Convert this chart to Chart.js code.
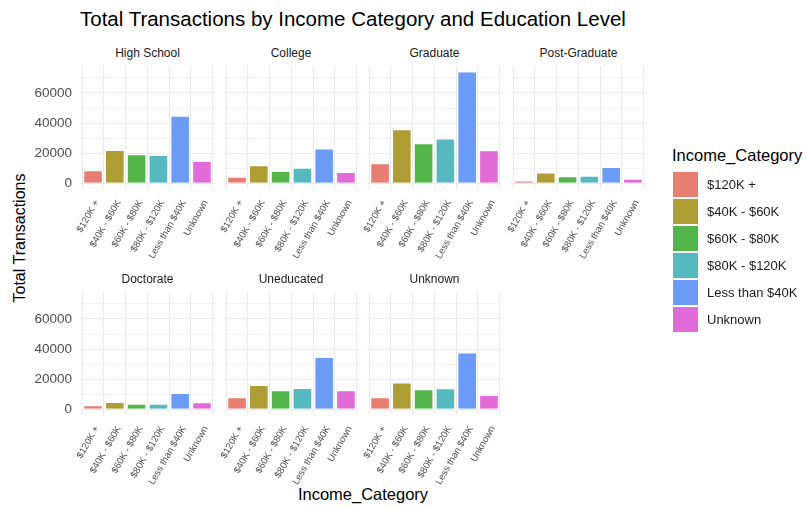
<!DOCTYPE html>
<html>
<head>
<meta charset="utf-8">
<script src="https://cdn.jsdelivr.net/npm/chart.js@4.4.1/dist/chart.umd.min.js"></script>
<style>
body { margin: 0; background: #fff; font-family: 'Liberation Sans', Arial, sans-serif; }
#wrap { position: relative; width: 806px; height: 508px; overflow: hidden; }
.txt { position: absolute; white-space: nowrap; }
canvas { position: absolute; }
.strip { position: absolute; width: 135px; text-align: center; font-size: 12px; color: #1a1a1a; }
.key { position: absolute; left: 673px; width: 25px; height: 25px; }
.keyLabel { position: absolute; left: 707px; font-size: 13px; color: #1a1a1a; }
</style>
</head>
<body>
<div id="wrap">
  <div class="txt" style="left:80px;top:7px;font-size:20.5px;color:#000;">Total Transactions by Income Category and Education Level</div>
  <div class="txt" style="left:20px;top:238px;font-size:16px;color:#000;transform:translate(-50%,-50%) rotate(-90deg);">Total Transactions</div>
  <div class="txt" style="left:363px;top:494px;font-size:16.5px;color:#000;transform:translate(-50%,-50%);">Income_Category</div>
  <div class="txt" style="left:672px;top:146px;font-size:16.5px;color:#000;">Income_Category</div>
</div>
<script>
// categories (x axis) and facets
const incomeCategories = ['$120K +', '$40K - $60K', '$60K - $80K', '$80K - $120K', 'Less than $40K', 'Unknown'];
const educationLevels = ['High School', 'College', 'Graduate', 'Post-Graduate', 'Doctorate', 'Uneducated', 'Unknown'];

// total transactions per income category, one array per education level
const highSchool   = [8700, 22200, 19300, 18900, 44900, 14900];
const college      = [4400, 12000, 8200, 10400, 23100, 7600];
const graduate     = [13300, 36000, 26700, 29800, 74200, 22000];
const postGraduate = [2000, 7300, 4700, 5100, 10900, 3100];
const doctorate    = [2700, 4900, 3800, 3800, 10900, 4700];
const uneducated   = [8000, 16200, 12700, 14200, 34700, 12700];
const unknownEdu   = [8000, 17800, 13300, 14000, 37800, 9600];

const yTickLabels = [0, 20000, 40000, 60000];
const yGridValues = [0, 10000, 20000, 30000, 40000, 50000, 60000, 70000];
const barColors = ['#E87D72', '#AD9D32', '#53B44A', '#55B9BF', '#6B9BF7', '#E26AD9'];

const series = [highSchool, college, graduate, postGraduate, doctorate, uneducated, unknownEdu];

// layout of the facet grid
const colLeft = [80, 223.5, 367, 511];
const rowTop = [65.5, 291.5];
const panelW = 135;
const panelH = 123;
const padL = 65, padR = 8, padT = 20, xAxisH = 85;

const wrap = document.getElementById('wrap');

// fixed y scale shared by all facets, 5% expansion like ggplot
const allMax = Math.max(...series.flat());
const yMin = -0.05 * allMax;
const yMax = 1.05 * allMax;

const gridColor = '#EBEBEB';
const fontFamily = "'Liberation Sans', Arial, sans-serif";

educationLevels.forEach((level, i) => {
    const col = i % 4;
    const row = Math.floor(i / 4);
    const left = colLeft[col];
    const top = rowTop[row];
    const firstCol = col === 0;

    // strip label
    const strip = document.createElement('div');
    strip.className = 'strip';
    strip.style.left = left + 'px';
    strip.style.top = (top - 20) + 'px';
    strip.textContent = level;
    wrap.appendChild(strip);

    // canvas is a bit taller on top so the y labels' padding does not move the plot area
    const canvas = document.createElement('canvas');
    canvas.width = panelW + padL + padR;
    canvas.height = padT + panelH + xAxisH;
    canvas.style.left = (left - padL) + 'px';
    canvas.style.top = (top - padT) + 'px';
    wrap.appendChild(canvas);

    new Chart(canvas.getContext('2d'), {
        type: 'bar',
        data: {
            datasets: [{
                data: series[i].map((v, k) => ({ x: k + 1, y: v })),
                backgroundColor: barColors,
                borderColor: 'rgba(255,255,255,0.7)',
                borderWidth: 1,
                barPercentage: 0.9,
                categoryPercentage: 1.0
            }]
        },
        options: {
            responsive: false,
            animation: false,
            layout: { autoPadding: false, padding: { left: firstCol ? 0 : padL, right: padR, top: padT, bottom: 0 } },
            plugins: { legend: { display: false }, tooltip: { enabled: false } },
            scales: {
                x: {
                    type: 'linear',
                    min: 0.4,
                    max: 6.6,
                    offset: false,
                    afterBuildTicks: (axis) => { axis.ticks = incomeCategories.map((c, k) => ({ value: k + 1 })); },
                    afterFit: (scale) => { scale.height = xAxisH; },
                    grid: { color: gridColor, lineWidth: 1.1, drawTicks: false },
                    border: { display: false },
                    ticks: {
                        autoSkip: false,
                        minRotation: 60,
                        maxRotation: 60,
                        padding: 9,
                        labelOffset: 4,
                        color: '#4D4D4D',
                        font: { size: 9.5, family: fontFamily },
                        callback: (v) => incomeCategories[Math.round(v) - 1]
                    }
                },
                y: {
                    type: 'linear',
                    min: yMin,
                    max: yMax,
                    afterBuildTicks: (axis) => { axis.ticks = yGridValues.map((v) => ({ value: v })); },
                    afterFit: (scale) => { scale.width = firstCol ? padL : 0; },
                    grid: {
                        color: gridColor,
                        drawTicks: false,
                        lineWidth: (ctx) => (ctx.tick && yTickLabels.includes(ctx.tick.value) ? 1.1 : 0.55)
                    },
                    border: { display: false },
                    ticks: {
                        display: firstCol,
                        autoSkip: false,
                        padding: 8,
                        color: '#4D4D4D',
                        font: { size: 13.5, family: fontFamily },
                        callback: (v) => (yTickLabels.includes(v) ? String(v) : '')
                    }
                }
            }
        }
    });
});

// legend
incomeCategories.forEach((c, k) => {
    const y = 172 + k * 27;
    const key = document.createElement('div');
    key.className = 'key';
    key.style.top = y + 'px';
    key.style.background = barColors[k];
    wrap.appendChild(key);
    const lab = document.createElement('div');
    lab.className = 'keyLabel';
    lab.style.top = (y + 5) + 'px';
    lab.textContent = c;
    wrap.appendChild(lab);
});
</script>
</body>
</html>
